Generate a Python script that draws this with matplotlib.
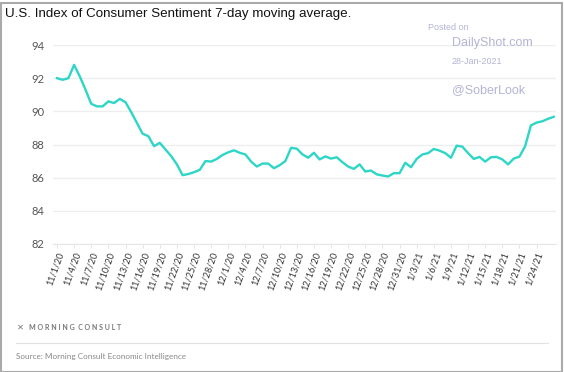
import numpy as np
import matplotlib.pyplot as plt
from matplotlib.patches import Rectangle
from matplotlib.lines import Line2D

# 7-day moving average, daily from 11/1/20 to 1/27/21
sentiment = [92.0, 91.9, 92.0, 92.8, 92.1, 91.3, 90.45, 90.3, 90.3, 90.6,
             90.5, 90.75, 90.55, 89.95, 89.3, 88.65, 88.5, 87.9, 88.1, 87.7,
             87.3, 86.8, 86.15, 86.22, 86.33, 86.47, 87.0, 86.97, 87.13, 87.37,
             87.53, 87.65, 87.5, 87.4, 86.97, 86.67, 86.85, 86.85, 86.57, 86.75,
             87.0, 87.8, 87.75, 87.4, 87.2, 87.5, 87.1, 87.28, 87.15, 87.23,
             86.93, 86.67, 86.53, 86.8, 86.37, 86.43, 86.2, 86.13, 86.07, 86.27,
             86.27, 86.9, 86.63, 87.13, 87.4, 87.48, 87.73, 87.63, 87.48, 87.2,
             87.93, 87.87, 87.48, 87.13, 87.25, 86.97, 87.23, 87.25, 87.1, 86.8,
             87.15, 87.27, 87.9, 89.15, 89.32, 89.4, 89.55, 89.67]
tick_labels = ['11/1/20', '11/4/20', '11/7/20', '11/10/20', '11/13/20', '11/16/20',
               '11/19/20', '11/22/20', '11/25/20', '11/28/20', '12/1/20', '12/4/20',
               '12/7/20', '12/10/20', '12/13/20', '12/16/20', '12/19/20', '12/22/20',
               '12/25/20', '12/28/20', '12/31/20', '1/3/21', '1/6/21', '1/9/21',
               '1/12/21', '1/15/21', '1/18/21', '1/21/21', '1/24/21']
y_ticks = [82, 84, 86, 88, 90, 92, 94]

days = np.arange(len(sentiment))
tick_pos = np.arange(len(tick_labels)) * 3

W, H = 564, 372
fig = plt.figure(figsize=(W / 100, H / 100), dpi=100)
ax = fig.add_axes([53 / W, 1 - 244 / H, (556 - 53) / W, (244 - 45) / H])

ax.plot(days, sentiment, color='#2dd6c6', lw=1.7, solid_joinstyle='round')
ax.set_xlim(-0.7, 87.4)
ax.set_ylim(82, 94)
ax.set_yticks(y_ticks)
ax.set_yticklabels([str(v) for v in y_ticks], fontsize=8, color='#555555', family='Lato')
ax.set_xticks(tick_pos)
ax.set_xticklabels(tick_labels, rotation=70, ha='right', rotation_mode='anchor',
                   fontsize=6.6, color='#333333', family='Lato')
ax.grid(axis='y', color='#eeeeee', lw=1)
ax.tick_params(axis='y', length=0, pad=6)
ax.tick_params(axis='x', length=3, color='#e6e6e6', pad=2)
for s in ['top', 'right', 'left']:
    ax.spines[s].set_visible(False)
ax.spines['bottom'].set_color('#e6e6e6')
ax.set_axisbelow(True)

# title and watermark
fig.text(5 / W, 1 - 14 / H, 'U.S. Index of Consumer Sentiment 7-day moving average.',
         fontsize=9.6, family='Liberation Sans', color='#111111', va='center')
wm = '#b4b4d6'
fig.text(428 / W, 1 - 27 / H, 'Posted on', fontsize=6.5, color=wm, va='center', family='Liberation Sans')
fig.text(452 / W, 1 - 43 / H, 'DailyShot.com', fontsize=9, color=wm, va='center', family='Liberation Sans')
fig.text(452 / W, 1 - 61 / H, '28-Jan-2021', fontsize=6.5, color=wm, va='center', family='Liberation Sans')
fig.text(452 / W, 1 - 90 / H, '@SoberLook', fontsize=9, color=wm, va='center', family='Liberation Sans')

# footer
fig.text(17 / W, 1 - 327 / H, '\u2715', fontsize=6, color='#777777', va='center', fontweight='bold')
fig.text(29 / W, 1 - 327 / H, 'M O R N I N G  C O N S U L T', fontsize=5, color='#777777',
         va='center', fontweight='bold', family='Lato')
fig.add_artist(Line2D([16 / W, 548 / W], [1 - 343 / H, 1 - 343 / H], color='#e2e2e2', lw=0.8))
fig.text(16 / W, 1 - 356 / H, 'Source: Morning Consult Economic Intelligence', fontsize=5.9,
         color='#888888', va='center', family='Lato')

# outer frame
fig.add_artist(Rectangle((0.5 / W, 0.5 / H), (W - 3) / W, (H - 3) / H, transform=fig.transFigure,
                         fill=False, edgecolor='#aaaaaa', lw=1.5))

fig.savefig('out.png', dpi=100)
